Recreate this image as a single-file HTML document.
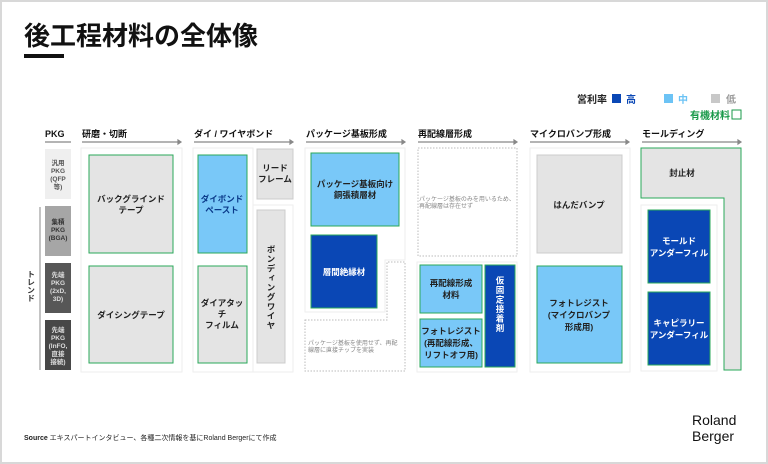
<!DOCTYPE html>
<html><head><meta charset="utf-8"><style>
html,body{margin:0;padding:0;background:#fff}
svg{display:block}
text{font-family:"Liberation Sans","Noto Sans CJK JP",sans-serif}
</style></head><body>
<svg width="768" height="464" viewBox="0 0 768 464" xmlns="http://www.w3.org/2000/svg">
<rect x="1" y="1" width="766" height="462" fill="#fff" stroke="#d8d8d8" stroke-width="2"/>
<text x="24" y="45" font-size="26" font-weight="bold" fill="#111">後工程材料の全体像</text>
<rect x="24" y="54" width="40" height="4" fill="#111"/>
<!-- legend -->
<g font-size="10" font-weight="bold">
<text x="577" y="103" fill="#222">営利率</text>
<rect x="612" y="94" width="9" height="9" fill="#0a47b5"/><text x="626" y="103" fill="#0a47b5">高</text>
<rect x="664" y="94" width="9" height="9" fill="#6cc3f5"/><text x="678" y="103" fill="#6cc3f5">中</text>
<rect x="711" y="94" width="9" height="9" fill="#c8c8c8"/><text x="726" y="103" fill="#999">低</text>
<text x="690" y="119" fill="#1a9a4a">有機材料</text>
<rect x="732" y="110" width="9" height="9" fill="none" stroke="#1a9a4a"/>
</g>
<!-- headers -->
<g font-size="9" font-weight="bold" fill="#111">
<text x="45" y="137">PKG</text>
<text x="82" y="137">研磨・切断</text>
<text x="194" y="137">ダイ / ワイヤボンド</text>
<text x="306" y="137">パッケージ基板形成</text>
<text x="418" y="137">再配線層形成</text>
<text x="530" y="137">マイクロバンプ形成</text>
<text x="642" y="137">モールディング</text>
</g>
<g stroke="#888" stroke-width="1.2" fill="#888">
<line x1="45" y1="142" x2="71" y2="142"/>
<line x1="82" y1="142" x2="180" y2="142"/><path d="M181 142 l-3 -2 v4z"/>
<line x1="194" y1="142" x2="292" y2="142"/><path d="M293 142 l-3 -2 v4z"/>
<line x1="306" y1="142" x2="404" y2="142"/><path d="M405 142 l-3 -2 v4z"/>
<line x1="418" y1="142" x2="516" y2="142"/><path d="M517 142 l-3 -2 v4z"/>
<line x1="530" y1="142" x2="628" y2="142"/><path d="M629 142 l-3 -2 v4z"/>
<line x1="642" y1="142" x2="740" y2="142"/><path d="M741 142 l-3 -2 v4z"/>
</g>
<!-- PKG column -->
<rect x="45" y="149" width="26" height="50" fill="#efefef"/>
<rect x="45" y="206" width="26" height="50" fill="#a6a6a6"/>
<rect x="45" y="263" width="26" height="50" fill="#575757"/>
<rect x="45" y="320" width="26" height="50" fill="#474747"/>
<g font-size="6.5" font-weight="bold" text-anchor="middle">
<text x="58" y="165" fill="#555">汎用</text><text x="58" y="173" fill="#555">PKG</text><text x="58" y="181" fill="#555">(QFP</text><text x="58" y="189" fill="#555">等)</text>
<text x="58" y="224" fill="#333">集積</text><text x="58" y="232" fill="#333">PKG</text><text x="58" y="240" fill="#333">(BGA)</text>
<text x="58" y="277" fill="#ddd">先端</text><text x="58" y="285" fill="#ddd">PKG</text><text x="58" y="293" fill="#ddd">(2xD,</text><text x="58" y="301" fill="#ddd">3D)</text>
<text x="58" y="332" fill="#ddd">先端</text><text x="58" y="340" fill="#ddd">PKG</text><text x="58" y="348" fill="#ddd">(InFO,</text><text x="58" y="356" fill="#ddd">直接</text><text x="58" y="364" fill="#ddd">接続)</text>
</g>
<line x1="40" y1="207" x2="40" y2="370" stroke="#888"/>
<text font-size="8" fill="#333" writing-mode="tb" x="31" y="270" font-weight="bold">トレンド</text>
<!-- panels -->
<g fill="#fff" stroke="#eee">
<rect x="81" y="148" width="101" height="224"/>
<rect x="193" y="148" width="60" height="224"/>
<rect x="253" y="205" width="40" height="167"/>
<path d="M305 148 H405 V260 H385 V312 H305Z"/>
<rect x="530" y="148" width="100" height="224"/>
<rect x="641" y="205" width="76" height="166"/>
<rect x="417" y="262" width="100" height="110"/>
</g>
<g fill="#fff" stroke="#bbb" stroke-dasharray="1.5 1.5">
<path d="M305 320 H387 V262 H405 V371 H305Z"/>
<rect x="418" y="148" width="99" height="108"/>
</g>
<g font-size="6" fill="#888">
<text x="308" y="345">パッケージ基板を使用せず、再配</text><text x="308" y="352">線層に直接チップを実装</text>
<text x="419" y="201">パッケージ基板のみを用いるため、</text><text x="419" y="208">再配線層は存在せず</text>
</g>
<!-- boxes -->
<g stroke="#2aa85a" stroke-width="1">
<rect x="89" y="155" width="84" height="98" fill="#e4e4e4"/>
<rect x="89" y="266" width="84" height="97" fill="#e4e4e4"/>
<rect x="198" y="155" width="49" height="98" fill="#79c8f8"/>
<rect x="198" y="266" width="49" height="97" fill="#e4e4e4"/>
<rect x="311" y="153" width="88" height="73" fill="#79c8f8"/>
<rect x="311" y="235" width="66" height="73" fill="#0a47b5"/>
<rect x="420" y="265" width="62" height="48" fill="#79c8f8"/>
<rect x="420" y="319" width="62" height="48" fill="#79c8f8"/>
<rect x="485" y="265" width="30" height="102" fill="#0a47b5"/>
<rect x="537" y="266" width="85" height="97" fill="#79c8f8"/>
<path d="M641 148 H741 V370 H724 V198 H641Z" fill="#e4e4e4"/>
<rect x="648" y="210" width="62" height="73" fill="#0a47b5"/>
<rect x="648" y="292" width="62" height="73" fill="#0a47b5"/>
</g>
<g stroke="#ccc" fill="#e4e4e4">
<rect x="257" y="149" width="36" height="50"/>
<rect x="257" y="210" width="28" height="153"/>
<rect x="537" y="155" width="85" height="98"/>
</g>
<g font-size="8.5" font-weight="bold" text-anchor="middle" fill="#222">
<text x="131" y="202">バックグラインド</text><text x="131" y="213">テープ</text>
<text x="131" y="318">ダイシングテープ</text>
<text x="222" y="202" fill="#0a3a8a">ダイボンド</text><text x="222" y="213" fill="#0a3a8a">ペースト</text>
<text x="222" y="306">ダイアタッ</text><text x="222" y="317">チ</text><text x="222" y="328">フィルム</text>
<text x="275" y="171">リード</text><text x="275" y="182">フレーム</text>
<text x="271" y="245" writing-mode="tb" text-anchor="start" letter-spacing="1">ボンディングワイヤ</text>
<text x="355" y="187">パッケージ基板向け</text><text x="355" y="198">銅張積層材</text>
<text x="344" y="275" fill="#fff">層間絶縁材</text>
<text x="451" y="286">再配線形成</text><text x="451" y="298">材料</text>
<text x="451" y="334">フォトレジスト</text><text x="451" y="346">(再配線形成、</text><text x="451" y="358">リフトオフ用)</text>
<text x="500" y="276" writing-mode="tb" text-anchor="start" fill="#fff" letter-spacing="1">仮固定接着剤</text>
<text x="579" y="208">はんだバンプ</text>
<text x="579" y="306">フォトレジスト</text><text x="579" y="318">(マイクロバンプ</text><text x="579" y="330">形成用)</text>
<text x="682" y="176">封止材</text>
<text x="679" y="244" fill="#fff">モールド</text><text x="679" y="256" fill="#fff">アンダーフィル</text>
<text x="679" y="326" fill="#fff">キャピラリー</text><text x="679" y="338" fill="#fff">アンダーフィル</text>
</g>
<!-- footer -->
<text x="24" y="440" font-size="7" fill="#222"><tspan font-weight="bold">Source</tspan> エキスパートインタビュー、各種二次情報を基にRoland Bergerにて作成</text>
<text x="692" y="425" font-size="14" fill="#111">Roland</text>
<text x="692" y="441" font-size="14" fill="#111">Berger</text>
</svg>
</body></html>
